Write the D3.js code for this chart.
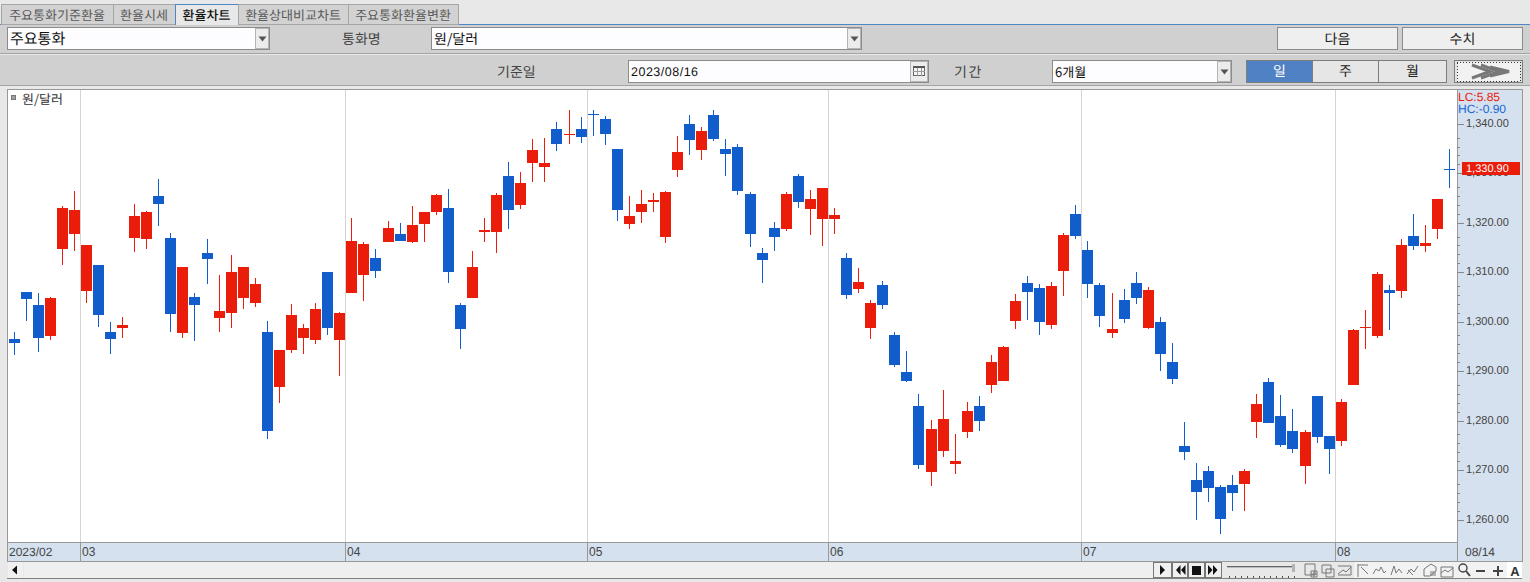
<!DOCTYPE html>
<html>
<head>
<meta charset="utf-8">
<script src="https://cdn.jsdelivr.net/npm/d3@7"></script>
<style>
  html, body { margin: 0; padding: 0; background: #e8e8e8; overflow: hidden; }
  svg { display: block; }
  text { font-family: "Noto Sans CJK KR", "Noto Sans", sans-serif; }
  .num { font-family: "Liberation Sans", sans-serif; }
</style>
</head>
<body>
<svg id="chart" width="1530" height="582"></svg>
<script>
// trading days shown in the window
let dates = [
  "2023-02-21","2023-02-22","2023-02-23","2023-02-24","2023-02-27","2023-02-28",
  "2023-03-02","2023-03-03","2023-03-06","2023-03-07","2023-03-08","2023-03-09","2023-03-10","2023-03-13","2023-03-14","2023-03-15","2023-03-16","2023-03-17","2023-03-20","2023-03-21","2023-03-22","2023-03-23","2023-03-24","2023-03-27","2023-03-28","2023-03-29","2023-03-30","2023-03-31",
  "2023-04-03","2023-04-04","2023-04-05","2023-04-06","2023-04-07","2023-04-10","2023-04-11","2023-04-12","2023-04-13","2023-04-14","2023-04-17","2023-04-18","2023-04-19","2023-04-20","2023-04-21","2023-04-24","2023-04-25","2023-04-26","2023-04-27","2023-04-28",
  "2023-05-02","2023-05-03","2023-05-04","2023-05-08","2023-05-09","2023-05-10","2023-05-11","2023-05-12","2023-05-15","2023-05-16","2023-05-17","2023-05-18","2023-05-19","2023-05-22","2023-05-23","2023-05-24","2023-05-25","2023-05-26","2023-05-30","2023-05-31",
  "2023-06-01","2023-06-02","2023-06-05","2023-06-07","2023-06-08","2023-06-09","2023-06-12","2023-06-13","2023-06-14","2023-06-15","2023-06-16","2023-06-19","2023-06-20","2023-06-21","2023-06-22","2023-06-23","2023-06-26","2023-06-27","2023-06-28","2023-06-29","2023-06-30",
  "2023-07-03","2023-07-04","2023-07-05","2023-07-06","2023-07-07","2023-07-10","2023-07-11","2023-07-12","2023-07-13","2023-07-14","2023-07-17","2023-07-18","2023-07-19","2023-07-20","2023-07-21","2023-07-24","2023-07-25","2023-07-26","2023-07-27","2023-07-28","2023-07-31",
  "2023-08-01","2023-08-02","2023-08-03","2023-08-04","2023-08-07","2023-08-08","2023-08-09","2023-08-10","2023-08-11","2023-08-14"
];

let opens = [
  1296.59,1306.10,1303.47,1297.20,1314.79,1317.82,1306.30,1311.56,1298.01,1298.82,
  1317.01,1316.81,1325.51,1317.01,1297.81,1305.09,1313.98,1300.84,1301.85,1304.88,
  1303.87,1298.01,1286.89,1294.37,1296.79,1296.39,1310.14,1296.39,1305.89,1309.53,
  1312.97,1316.20,1317.82,1316.20,1319.84,1322.27,1323.07,1303.46,1304.88,1318.22,
  1318.22,1329.54,1323.68,1332.17,1331.36,1339.05,1337.83,1339.05,1342.08,1341.07,
  1335.00,1319.84,1322.27,1324.29,1317.21,1330.76,1340.06,1334.80,1341.88,1335.00,
  1335.41,1325.91,1313.98,1319.03,1318.83,1329.54,1322.87,1320.85,1320.85,1312.97,
  1306.70,1298.82,1307.51,1297.40,1289.92,1283.05,1269.70,1273.95,1271.32,1277.79,
  1283.05,1287.29,1288.10,1300.23,1307.92,1306.91,1299.42,1310.34,1321.86,1314.58,
  1307.50,1297.80,1304.47,1307.91,1298.81,1300.02,1291.94,1274.95,1268.08,1269.90,
  1266.66,1267.07,1267.27,1279.81,1287.89,1281.03,1277.99,1270.92,1285.07,1276.98,
  1275.97,1287.29,1298.82,1297.20,1306.50,1306.30,1317.42,1315.40,1318.83,1330.96
];
let highs = [
  1298.01,1306.10,1305.89,1305.09,1323.48,1326.52,1315.60,1311.56,1300.03,1301.04,
  1323.89,1322.47,1328.94,1318.03,1311.15,1305.89,1316.81,1309.53,1313.58,1311.15,
  1308.93,1300.23,1294.37,1303.67,1299.62,1303.87,1310.14,1302.05,1321.05,1316.20,
  1314.79,1320.45,1320.04,1323.48,1322.27,1325.91,1326.92,1303.87,1314.38,1321.05,
  1326.11,1332.37,1330.35,1337.02,1337.23,1340.46,1342.89,1341.47,1342.89,1341.68,
  1335.00,1325.50,1326.71,1326.11,1326.51,1337.63,1341.88,1339.45,1342.89,1337.02,
  1336.01,1326.31,1314.99,1320.24,1326.31,1329.95,1326.71,1327.12,1323.07,1313.98,
  1310.95,1304.48,1308.32,1298.01,1294.17,1285.47,1280.22,1286.28,1277.39,1283.86,
  1285.07,1293.36,1295.18,1305.69,1309.33,1307.71,1308.12,1318.02,1323.68,1316.40,
  1307.91,1305.89,1306.70,1310.13,1307.10,1301.03,1295.78,1279.81,1271.52,1270.91,
  1267.07,1269.09,1270.30,1285.47,1288.70,1285.27,1282.44,1278.20,1285.07,1276.98,
  1284.46,1298.62,1302.46,1310.14,1307.51,1316.81,1321.87,1319.64,1324.90,1335.01
];
let lows = [
  1293.36,1300.23,1293.97,1296.39,1311.56,1314.39,1303.87,1299.02,1293.56,1296.80,
  1314.18,1314.79,1319.44,1298.01,1296.80,1296.19,1307.71,1298.01,1298.82,1302.66,
  1303.06,1276.38,1283.65,1293.76,1293.56,1295.58,1297.40,1289.11,1305.89,1304.27,
  1308.92,1316.20,1316.40,1316.00,1316.20,1321.66,1307.91,1294.57,1304.88,1316.20,
  1313.98,1318.83,1322.87,1328.33,1328.33,1334.60,1336.01,1336.22,1337.63,1335.81,
  1320.45,1318.83,1320.04,1322.27,1316.00,1329.34,1333.79,1332.78,1336.62,1329.54,
  1325.70,1315.19,1307.91,1314.38,1318.42,1323.07,1317.62,1315.39,1317.82,1304.68,
  1305.89,1296.59,1302.66,1290.93,1287.90,1270.31,1266.87,1272.74,1269.30,1276.58,
  1277.99,1285.68,1288.10,1298.62,1300.44,1297.40,1298.62,1305.28,1316.80,1304.88,
  1299.01,1296.79,1299.82,1303.66,1298.61,1290.12,1287.49,1272.12,1259.99,1263.63,
  1257.16,1261.81,1261.81,1276.57,1279.60,1274.76,1273.55,1267.28,1275.57,1269.30,
  1274.96,1287.29,1294.57,1296.80,1298.41,1304.88,1314.59,1314.18,1316.81,1327.12
];
let closes = [
  1295.79,1304.68,1296.80,1304.88,1323.08,1322.68,1315.60,1301.45,1296.59,1299.42,
  1321.46,1322.27,1323.89,1301.65,1311.15,1303.47,1312.77,1302.26,1310.14,1311.15,
  1307.71,1277.99,1294.37,1301.45,1298.81,1302.65,1298.81,1301.85,1316.40,1315.80,
  1310.34,1319.03,1316.40,1319.64,1322.27,1325.70,1310.14,1298.61,1311.15,1318.63,
  1325.70,1322.67,1328.13,1334.80,1332.17,1336.01,1338.04,1337.43,1341.88,1338.04,
  1322.67,1321.46,1323.88,1324.69,1326.31,1334.40,1336.82,1338.64,1337.02,1333.99,
  1326.51,1317.82,1312.56,1317.21,1325.91,1324.29,1324.89,1327.12,1321.66,1305.49,
  1308.12,1303.87,1303.47,1291.34,1288.10,1271.12,1278.40,1280.42,1271.93,1282.04,
  1280.02,1291.94,1294.98,1304.28,1306.10,1300.03,1307.31,1317.61,1317.41,1307.71,
  1301.24,1298.61,1300.63,1304.88,1306.49,1293.55,1288.50,1273.74,1265.65,1266.46,
  1260.19,1265.45,1269.90,1283.45,1279.60,1275.16,1274.35,1277.79,1276.78,1274.35,
  1283.86,1298.41,1299.02,1309.74,1305.89,1315.60,1315.40,1316.00,1324.90,1330.90
];

let yTicks = [1260, 1270, 1280, 1290, 1300, 1310, 1320, 1330, 1340];
let yMinorSteps = [1.8, 3.6, 5.4, 7.2];
let lcLabel = "LC:5.85";
let hcLabel = "HC:-0.90";
let lastDateLabel = "08/14";
let seriesName = "원/달러";
let tabNames = ["주요통화기준환율", "환율시세", "환율차트", "환율상대비교차트", "주요통화환율변환"];

const RED = "#ea1c0a";
const BLUE = "#115dcb";
const AXIS_BG = "#d6e1ef";
const PANEL = "#d0d0d0";
const EDGE = "#999999";

let svg = d3.select("#chart").attr("shape-rendering", "crispEdges");

function box(x, y, w, h, fill, stroke, parent) {
  return (parent || svg)
    .append("rect")
    .attr("x", stroke ? x + 0.5 : x)
    .attr("y", stroke ? y + 0.5 : y)
    .attr("width", stroke ? w - 1 : w)
    .attr("height", stroke ? h - 1 : h)
    .attr("fill", fill)
    .attr("stroke", stroke || "none");
}

function label(x, y, str, size, color, anchor) {
  return svg
    .append("text")
    .attr("x", x)
    .attr("y", y)
    .attr("dominant-baseline", "central")
    .attr("text-anchor", anchor || "start")
    .attr("font-size", size)
    .attr("fill", color)
    .attr("text-rendering", "geometricPrecision")
    .text(str);
}

function dropArrow(cx, cy) {
  svg
    .append("path")
    .attr("d", `M${cx - 4},${cy - 2}h8l-4,5z`)
    .attr("fill", "#555")
    .attr("shape-rendering", "auto");
}

function selectBox(x, y, w, h, btn, str, size) {
  box(x, y, w, h, "#fdfdff", "#8c8c8c");
  box(x + w - btn, y + 1, btn - 1, h - 2, "#ececec", "#b4b4b4");
  dropArrow(x + w - btn / 2, y + h / 2);
  label(x + 3, y + h / 2, str, size, "#111");
}

// top tabs and control rows
function drawChrome() {
  box(0, 0, 1530, 582, "#e8e8e8");
  box(0, 25, 1530, 28, PANEL);
  box(0, 53, 1530, 1, "#a4a4a4");
  box(0, 55, 1530, 30, PANEL);
  box(0, 85, 1530, 1, "#a4a4a4");
  box(0, 24, 1530, 1, "#4f86c6");

  let tabEdges = [1, 113, 175, 238, 348, 458];
  tabNames.forEach((name, i) => {
    let active = i == 2;
    let x = tabEdges[i];
    let w = tabEdges[i + 1] - x;
    box(x, 4, w + 1, 21, active ? "#e8e8e8" : "#d2d2d2", active ? "#4f86c6" : "#a6a6a6");
    if (active) {
      box(x + 1, 24, w - 1, 1, "#e8e8e8");
    }
    label(x + w / 2, 14.5, name, 13, active ? "#111" : "#5a5a5a", "middle")
      .attr("font-weight", active ? 500 : 400);
  });

  selectBox(7, 27, 263, 23, 15, "주요통화", 15);
  label(342, 38.5, "통화명", 14, "#444");
  selectBox(431, 27, 431, 23, 15, seriesName, 14);
  box(1277, 27, 121, 23, "#efefef", "#8c8c8c");
  label(1337.5, 38.5, "다음", 14, "#222", "middle");
  box(1402, 27, 121, 23, "#efefef", "#8c8c8c");
  label(1462.5, 38.5, "수치", 14, "#222", "middle");

  label(497, 71.5, "기준일", 14, "#444");
  box(628, 60, 301, 23, "#fdfdff", "#8c8c8c");
  box(910, 61, 18, 21, "#ececec", "#b4b4b4");
  box(913, 66, 12, 10, "#f4f4f4", "#666");
  box(913, 66, 12, 2, "#555");
  box(917, 68, 1, 8, "#999");
  box(921, 68, 1, 8, "#999");
  box(913, 71, 12, 1, "#999");
  label(631, 72, "2023/08/16", 12.5, "#111").attr("class", "num").attr("letter-spacing", 0.5);
  label(954, 71.5, "기간", 14, "#444").attr("letter-spacing", 1.5);
  selectBox(1052, 60, 180, 23, 15, "6개월", 13);

  box(1246, 60, 67, 23, "#4f81c4", "#7d7d7d");
  box(1312, 60, 67, 23, "#e6e6e6", "#7d7d7d");
  box(1378, 60, 69, 23, "#e6e6e6", "#7d7d7d");
  label(1279.5, 71, "일", 14, "#fff", "middle");
  label(1345.5, 71, "주", 14, "#222", "middle");
  label(1412.5, 71, "월", 14, "#222", "middle");

  box(1454, 60, 69, 23, "#e2e2e2", "#7d7d7d");
  svg.append("rect").attr("x", 1457).attr("y", 62).attr("width", 63).attr("height", 19)
    .attr("fill", "#f2f2f2").attr("stroke", "#333").attr("stroke-dasharray", "1,2");
  ["M1472,65L1490,71.5L1472,78", "M1481,65L1499,71.5L1481,78", "M1490,67L1509,71.5L1490,76"].forEach((d) => {
    svg.append("path").attr("d", d).attr("fill", "none").attr("stroke", "#777")
      .attr("stroke-width", 3).attr("shape-rendering", "auto");
  });
}

// scrollbar and small toolbar under the chart
function drawToolbar() {
  box(8, 562, 15, 16, "#f0f0f0");
  svg.append("path").attr("d", "M12,570l5,-4.5v9z").attr("fill", "#111").attr("shape-rendering", "auto");
  box(24, 562, 1129, 16, "#efefef");
  box(7, 578, 1515, 1, "#808080");
  box(1354, 562, 168, 16, "#f2f2f2");

  let edges = [1153, 1172, 1188, 1205, 1222];
  d3.range(4).forEach((i) => {
    box(edges[i], 562, edges[i + 1] - edges[i], 16, "#f0f0f0", "#777");
  });
  let glyphs = ["M1160,565l5,5l-5,5z", "M1176,570l4.5,-5v10zM1181,570l4.5,-5v10z", "M1192,566h9v9h-9z", "M1208,565l4.5,5l-4.5,5zM1213,565l4.5,5l-4.5,5z"];
  glyphs.forEach((d) => {
    svg.append("path").attr("d", d).attr("fill", "#111").attr("shape-rendering", "auto");
  });

  box(1227, 566, 66, 1, "#666");
  box(1227, 567, 66, 1, "#bbb");
  box(1292, 564, 3, 8, "#b4b4b4");
  d3.range(0, 12).forEach((i) => {
    box(1229 + i * 5.9, 576, 1, 2, "#555");
  });

  let icons = [
    "M1305,564h10v11h-10zM1311,571h6v6h-6zM1311,574h6M1314,571v6",
    "M1322,565h9v8h-9zM1326,569h8v8h-8z",
    "M1338,566h13M1338,575h13M1351,566v9M1338,574l5,-4l3,2l5,-5",
    "M1358,564v13M1358,565h10M1361,567l7,7",
    "M1373,574l3,-5l3,2l2,-4l3,6l2,-2",
    "M1391,575l3,-9l2,7l3,-4l3,4",
    "M1407,574l4,-5l3,3l4,-6M1408,570l5,5",
    "M1424,569l7,-5l5,3v4l-6,5h-6zM1431,571v5M1433,571v5M1435,571v5",
    "M1441,567h12v10h-12zM1441,573l4,-3l3,2l5,-4",
  ];
  icons.forEach((d) => {
    svg.append("path").attr("d", d).attr("fill", "none").attr("stroke", "#777").attr("shape-rendering", "auto");
  });
  svg.append("circle").attr("cx", 1463).attr("cy", 568).attr("r", 4).attr("fill", "none")
    .attr("stroke", "#444").attr("stroke-width", 1.4).attr("shape-rendering", "auto");
  svg.append("path").attr("d", "M1466,571l4,5").attr("stroke", "#444").attr("stroke-width", 2)
    .attr("shape-rendering", "auto");
  box(1476, 570, 9, 2, "#444");
  box(1493, 570, 10, 2, "#444");
  box(1497, 566, 2, 10, "#444");
  box(1507, 562, 15, 16, "#fff");
  label(1515, 571, "A", 13, "#333", "middle").attr("class", "num").attr("font-weight", "bold");
}

function drawCandles() {
  let candles = dates.map((d, i) => ({
    date: d,
    open: opens[i],
    high: highs[i],
    low: lows[i],
    close: closes[i],
  }));

  let x = d3.scaleBand().domain(dates).range([7.97, 1455.88]);
  let y = d3.scaleLinear().domain([1260, 1340]).range([520, 124.3]);

  let xPos = (d) => Math.floor(x(d) + x.step() / 2);
  let yPos = (v) => Math.round(y(v));
  let color = (d) => (d.close >= d.open ? RED : BLUE);

  // plot area, right axis and date strip
  box(7, 89, 1451, 454, "#ffffff", EDGE);
  box(1457, 89, 66, 473, AXIS_BG, EDGE);
  box(7, 542, 1451, 20, AXIS_BG, EDGE);

  // a new gridline wherever the month changes
  let monthStarts = dates.filter((d, i) => i > 0 && d.slice(5, 7) != dates[i - 1].slice(5, 7));

  svg.append("g")
    .selectAll("rect")
    .data(monthStarts)
    .enter()
    .append("rect")
    .attr("x", (d) => xPos(d) - 6)
    .attr("y", 90)
    .attr("width", 1)
    .attr("height", 452)
    .attr("fill", "#d4d4d4");

  svg.append("g")
    .selectAll("rect")
    .data(monthStarts)
    .enter()
    .append("rect")
    .attr("x", (d) => xPos(d) - 6)
    .attr("y", 543)
    .attr("width", 1)
    .attr("height", 18)
    .attr("fill", EDGE);

  svg.append("g")
    .selectAll("text")
    .data(monthStarts)
    .enter()
    .append("text")
    .attr("class", "num")
    .attr("x", (d) => xPos(d) - 4)
    .attr("y", 552)
    .attr("dominant-baseline", "central")
    .attr("font-size", 12)
    .attr("fill", "#444")
    .text((d) => d.slice(5, 7));

  label(9, 552, dates[0].slice(0, 7).replace("-", "/"), 12, "#444").attr("class", "num");
  label(1465, 552, lastDateLabel, 12, "#444").attr("class", "num");

  // y axis, majors through d3 and the little ticks between them
  let minorValues = [];
  yTicks.slice(0, -1).forEach((t) => {
    yMinorSteps.forEach((s) => minorValues.push(t + s));
  });
  let minor = svg.append("g").attr("transform", "translate(1457,0)")
    .call(d3.axisRight(y).tickValues(minorValues).tickSize(3).tickFormat("").offset(0));
  minor.select(".domain").remove();
  minor.selectAll("line").attr("stroke", "#888");

  let major = svg.append("g").attr("transform", "translate(1457,0)")
    .call(d3.axisRight(y).tickValues(yTicks).tickSize(7).tickPadding(2)
      .tickFormat(d3.format(",.2f")).offset(0));
  major.attr("font-family", null);
  major.select(".domain").remove();
  major.selectAll("line").attr("stroke", "#888");
  major.selectAll("text")
    .attr("class", "num")
    .attr("font-size", 11)
    .attr("fill", "#444")
    .attr("dy", "0.23em");

  // wicks
  svg.append("g")
    .selectAll("rect")
    .data(candles)
    .enter()
    .append("rect")
    .attr("x", (d) => xPos(d.date))
    .attr("y", (d) => yPos(d.high))
    .attr("width", 1)
    .attr("height", (d) => yPos(d.low) - yPos(d.high))
    .attr("fill", color);

  // bodies
  svg.append("g")
    .selectAll("rect")
    .data(candles)
    .enter()
    .append("rect")
    .attr("x", (d) => xPos(d.date) - 5)
    .attr("y", (d) => yPos(Math.max(d.open, d.close)))
    .attr("width", 11)
    .attr("height", (d) => Math.max(1, yPos(Math.min(d.open, d.close)) - yPos(Math.max(d.open, d.close))))
    .attr("fill", color);

  // legend and high/low change
  box(11, 95, 5, 5, "#a0a0a0", "#777");
  label(22, 98.5, seriesName, 13, "#333");
  label(1458, 97, lcLabel, 12, RED).attr("class", "num");
  label(1458, 109, hcLabel, 12, "#1466d8").attr("class", "num");

  // last price flag
  let last = closes[closes.length - 1];
  box(1462, yPos(last) - 7, 58, 13, RED);
  label(1466, yPos(last) - 0.5, d3.format(",.2f")(last), 11, "#fff").attr("class", "num");
}

drawChrome();
drawCandles();
drawToolbar();
</script>
</body>
</html>
